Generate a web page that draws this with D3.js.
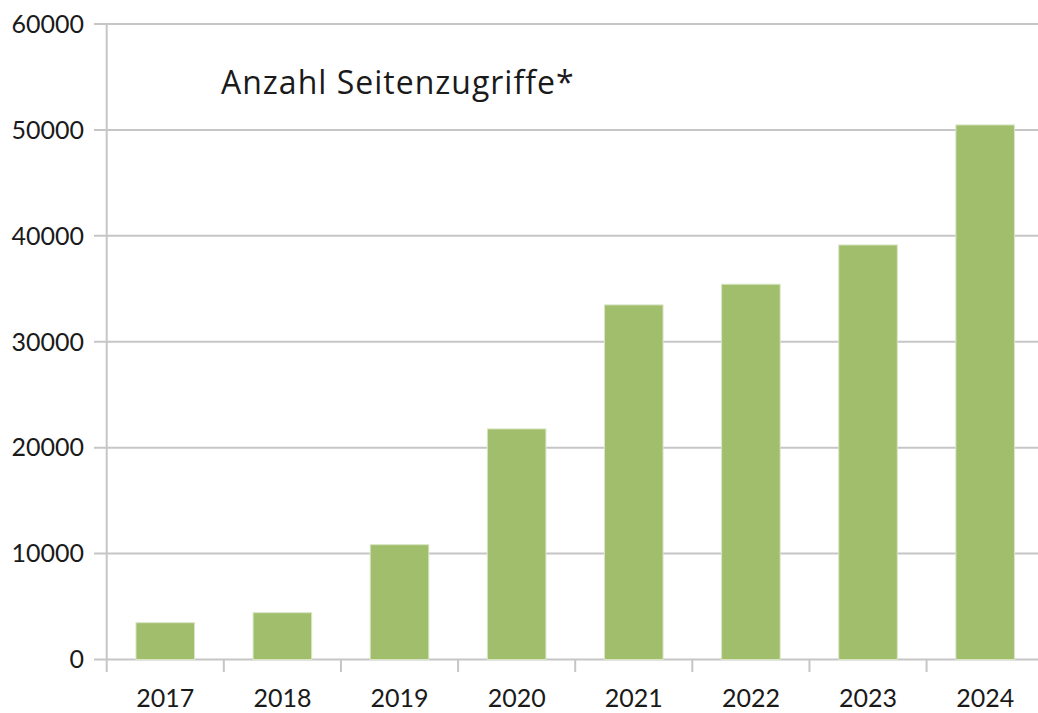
<!DOCTYPE html>
<html><head><meta charset="utf-8">
<script src="https://cdn.jsdelivr.net/npm/d3@7"></script>
<style>html,body{margin:0;padding:0;background:#fff;overflow:hidden}</style>
</head><body>
<script>
const years = ["2017","2018","2019","2020","2021","2022","2023","2024"];
const views = [3475, 4420, 10840, 21770, 33480, 35430, 39140, 50470];
const yTicks = [0, 10000, 20000, 30000, 40000, 50000, 60000];
const title = "Anzahl Seitenzugriffe*";

(function(){
const W = 1038, H = 713;
const svg = d3.select("body").append("svg").attr("width", W).attr("height", H);
const mLeft = 106.7, mRight = 1043.7, mTop = 24, mBottom = 659.5;
const font = "Lato, 'Open Sans', sans-serif";
const grid = "#c6c6c6";

const x = d3.scaleBand().domain(years).range([mLeft, mRight]).paddingInner(0.5).paddingOuter(0.25);
const y = d3.scaleLinear().domain([0, 60000]).range([mBottom, mTop]);

svg.append("g").selectAll("line").data(yTicks).join("line")
  .attr("x1", 94).attr("x2", W).attr("y1", d => y(d)).attr("y2", d => y(d))
  .attr("stroke", grid).attr("stroke-width", 2);

svg.append("line").attr("x1", mLeft).attr("x2", mLeft).attr("y1", mTop).attr("y2", 672)
  .attr("stroke", grid).attr("stroke-width", 2);

const bw = x.step();
svg.append("g").selectAll("line").data(d3.range(1, years.length)).join("line")
  .attr("x1", i => mLeft + i * bw).attr("x2", i => mLeft + i * bw)
  .attr("y1", mBottom).attr("y2", 672)
  .attr("stroke", grid).attr("stroke-width", 2);

svg.append("g").selectAll("rect").data(views).join("rect")
  .attr("x", (d, i) => x(years[i]))
  .attr("width", x.bandwidth())
  .attr("y", d => y(d))
  .attr("height", d => y(0) - y(d))
  .attr("fill", "#a0be6c")
  .attr("stroke", "#d8e6c4").attr("stroke-width", 1);

svg.append("g").selectAll("text").data(yTicks).join("text")
  .attr("x", 84).attr("y", d => y(d)).attr("dy", "0.35em")
  .attr("text-anchor", "end").attr("font-family", font).attr("font-size", 25)
  .attr("fill", "#1a1a1a").text(d => d);

svg.append("g").selectAll("text").data(years).join("text")
  .attr("x", (d, i) => x(d) + x.bandwidth() / 2).attr("y", 707)
  .attr("text-anchor", "middle").attr("font-family", font).attr("font-size", 25)
  .attr("fill", "#1a1a1a").text(d => d);

svg.append("text").attr("x", 221).attr("y", 94)
  .attr("font-family", "'Open Sans', Lato, sans-serif").attr("font-size", 32)
  .attr("letter-spacing", 1)
  .attr("fill", "#1a1a1a").text(title);
})();
</script>
</body></html>
